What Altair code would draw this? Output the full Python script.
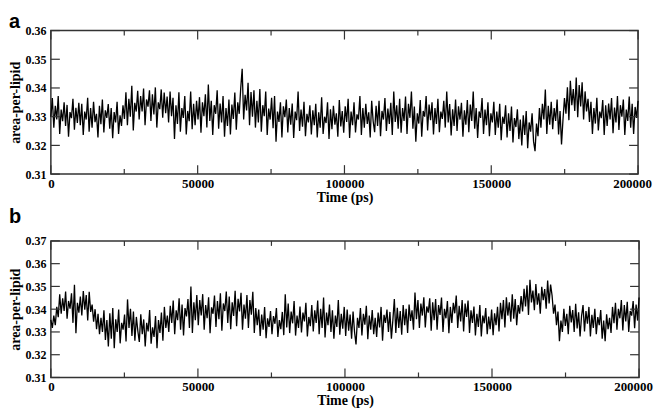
import altair as alt
import numpy as np
import pandas as pd

# area-per-lipid values, in units of 1e-4 nm^2, every ~500 ps
area_a_e4 = [
    3300, 3365, 3262, 3338, 3290, 3372, 3240, 3325, 3284, 3350, 3268, 3341, 3230, 3316, 3295, 3362, 3255, 3331, 3278, 3348,
    3270, 3345, 3236, 3318, 3290, 3366, 3248, 3330, 3262, 3352, 3281, 3310, 3228, 3338, 3274, 3360, 3245, 3322, 3296, 3344,
    3258, 3330, 3225, 3316, 3280, 3352, 3240, 3305, 3268, 3340, 3292, 3385, 3270, 3362, 3300, 3408, 3252, 3348, 3318, 3390,
    3290, 3372, 3318, 3398, 3270, 3360, 3335, 3392, 3285, 3378, 3308, 3402, 3262, 3350, 3326, 3395, 3296, 3384, 3312, 3370,
    3280, 3388, 3302, 3366, 3222, 3340, 3275, 3385, 3248, 3330, 3296, 3372, 3238, 3320, 3284, 3388, 3256, 3345, 3270, 3355,
    3290, 3368, 3244, 3350, 3302, 3378, 3262, 3412, 3285, 3355, 3236, 3340, 3310, 3392, 3258, 3346, 3280, 3372, 3230, 3330,
    3268, 3360, 3238, 3342, 3292, 3384, 3255, 3350, 3310, 3398, 3467, 3290, 3376, 3322, 3418, 3270, 3386, 3300, 3392, 3262,
    3355, 3280, 3396, 3248, 3340, 3302, 3388, 3236, 3328, 3290, 3366, 3260, 3372, 3213, 3318, 3282, 3350, 3228, 3336, 3298,
    3360, 3245, 3330, 3272, 3346, 3226, 3318, 3288, 3388, 3250, 3325, 3265, 3352, 3232, 3310, 3280, 3340, 3238, 3322, 3270,
    3345, 3228, 3315, 3262, 3368, 3240, 3300, 3278, 3350, 3222, 3326, 3256, 3338, 3272, 3312, 3230, 3358, 3266, 3320, 3244,
    3336, 3282, 3362, 3226, 3318, 3270, 3350, 3245, 3308, 3290, 3372, 3236, 3330, 3262, 3345, 3275, 3315, 3228, 3355, 3284,
    3246, 3338, 3268, 3355, 3232, 3320, 3290, 3365, 3250, 3328, 3275, 3348, 3236, 3388, 3282, 3340, 3258, 3362, 3244, 3330,
    3285, 3370, 3240, 3345, 3296, 3388, 3258, 3335, 3213, 3312, 3276, 3358, 3230, 3320, 3300, 3372, 3252, 3342, 3288, 3350,
    3238, 3330, 3275, 3362, 3246, 3318, 3292, 3355, 3262, 3388, 3280, 3344, 3235, 3326, 3268, 3360, 3250, 3336, 3290, 3348,
    3230, 3322, 3272, 3358, 3246, 3342, 3285, 3388, 3258, 3330, 3226, 3318, 3296, 3365, 3240, 3325, 3270, 3350, 3232, 3312,
    3280, 3352, 3236, 3318, 3262, 3345, 3218, 3300, 3275, 3340, 3228, 3312, 3250, 3335, 3210, 3295, 3264, 3326, 3222, 3290,
    3200, 3305, 3236, 3320, 3190, 3280, 3248, 3312, 3214, 3180, 3276, 3232, 3330, 3262, 3345, 3290, 3395, 3240, 3338, 3272,
    3352, 3256, 3330, 3285, 3360, 3238, 3320, 3203, 3290, 3365, 3310, 3402, 3288, 3425, 3340, 3396, 3320, 3436, 3298, 3410,
    3336, 3420, 3290, 3388, 3318, 3362, 3282, 3352, 3240, 3330, 3276, 3366, 3252, 3318, 3295, 3358, 3236, 3340, 3268, 3346,
    3290, 3365, 3242, 3332, 3280, 3372, 3254, 3340, 3300, 3360, 3236, 3325, 3285, 3370, 3262, 3345, 3240, 3334, 3296, 3355,
]

area_b_e4 = [
    3353, 3318, 3372, 3330, 3410, 3365, 3465, 3380, 3448, 3392, 3478, 3358, 3436, 3402, 3470, 3340, 3507, 3294, 3428, 3385,
    3455, 3372, 3480, 3398, 3462, 3350, 3476, 3388, 3420, 3345, 3400, 3312, 3380, 3290, 3362, 3300, 3395, 3265, 3352, 3236,
    3382, 3270, 3405, 3229, 3356, 3300, 3398, 3250, 3340, 3310, 3376, 3258, 3443, 3318, 3402, 3282, 3390, 3262, 3366, 3304,
    3256, 3378, 3290, 3355, 3236, 3340, 3302, 3396, 3248, 3320, 3278, 3370, 3229, 3352, 3296, 3385, 3262, 3410, 3318, 3372,
    3300, 3415, 3340, 3438, 3290, 3395, 3352, 3448, 3310, 3420, 3285, 3405, 3368, 3445, 3318, 3500, 3296, 3430, 3352, 3462,
    3330, 3440, 3372, 3466, 3310, 3418, 3360, 3452, 3294, 3408, 3380, 3460, 3322, 3436, 3356, 3470, 3305, 3425, 3392, 3478,
    3340, 3456, 3312, 3430, 3370, 3481, 3325, 3446, 3390, 3472, 3310, 3420, 3358, 3462, 3318, 3440, 3376, 3476, 3296, 3405,
    3330, 3398, 3282, 3376, 3310, 3409, 3273, 3360, 3322, 3392, 3290, 3370, 3336, 3405, 3278, 3352, 3312, 3388, 3286, 3466,
    3320, 3425, 3295, 3390, 3338, 3436, 3284, 3372, 3318, 3412, 3298, 3385, 3346, 3428, 3280, 3366, 3325, 3418, 3302, 3395,
    3340, 3438, 3290, 3402, 3318, 3451, 3276, 3385, 3330, 3420, 3300, 3395, 3270, 3372, 3322, 3440, 3288, 3380, 3314, 3410,
    3282, 3398, 3306, 3376, 3270, 3390, 3300, 3245, 3362, 3318, 3405, 3285, 3380, 3332, 3415, 3268, 3372, 3310, 3396, 3290,
    3362, 3278, 3385, 3320, 3410, 3262, 3375, 3340, 3398, 3300, 3388, 3270, 3352, 3445, 3296, 3406, 3318, 3392, 3288, 3418,
    3330, 3402, 3296, 3420, 3348, 3395, 3310, 3473, 3356, 3440, 3318, 3425, 3372, 3452, 3320, 3412, 3385, 3448, 3305, 3430,
    3352, 3445, 3310, 3418, 3375, 3451, 3300, 3402, 3360, 3436, 3294, 3410, 3340, 3428, 3382, 3460, 3318, 3415, 3346, 3440,
    3302, 3425, 3366, 3438, 3296, 3395, 3340, 3412, 3285, 3380, 3322, 3418, 3280, 3372, 3338, 3405, 3290, 3368, 3312, 3398,
    3286, 3382, 3330, 3410, 3302, 3428, 3356, 3440, 3320, 3452, 3372, 3430, 3345, 3466, 3358, 3445, 3330, 3418, 3380, 3458,
    3390, 3490, 3412, 3505, 3375, 3529, 3430, 3482, 3396, 3510, 3420, 3470, 3380, 3498, 3440, 3488, 3402, 3526, 3425, 3508,
    3460, 3380, 3420, 3330, 3390, 3259, 3350, 3300, 3402, 3326, 3380, 3290, 3415, 3342, 3396, 3300, 3424, 3315, 3386, 3280,
    3370, 3418, 3302, 3392, 3336, 3410, 3280, 3375, 3318, 3402, 3290, 3365, 3330, 3396, 3270, 3350, 3259, 3378, 3312, 3362,
    3296, 3410, 3338, 3428, 3310, 3402, 3360, 3440, 3306, 3418, 3346, 3432, 3300, 3392, 3372, 3436, 3316, 3420, 3350, 3451,
]

x_ticks = [0, 50000, 100000, 150000, 200000]
x_minor = [25000, 75000, 125000, 175000]
y_ticks_a = [0.31, 0.32, 0.33, 0.34, 0.35, 0.36]
y_ticks_b = [0.31, 0.32, 0.33, 0.34, 0.35, 0.36, 0.37]

SERIF = "Liberation Serif"
FRAME = "#333333"


def panel(values, label, ydom, yticks, W, H, label_y):
    n = len(values)
    df = pd.DataFrame({"t": np.linspace(0, 200000, n), "v": np.array(values) / 10000.0})
    xs = alt.Scale(domain=[0, 200000], nice=False, zero=False)
    ys = alt.Scale(domain=ydom, nice=False, zero=False)
    common = dict(labelFlush=False, labelOverlap=False, grid=False, ticks=False, domain=False,
                  labelFont=SERIF, labelFontWeight="bold", labelColor="black",
                  titleFont=SERIF, titleFontWeight="bold", titleFontSize=14, titleColor="black")
    ax = alt.Axis(values=x_ticks, format="d", labelFontSize=13, labelPadding=3, titlePadding=0,
                  labelOffset={"condition": {"test": "datum.value === 200000", "value": -6}, "value": 0},
                  **common)
    ay = alt.Axis(values=yticks, format=".2f", labelFontSize=12, labelPadding=5, titlePadding=2, **common)

    def X():
        return alt.X("t:Q", scale=xs, title="Time (ps)", axis=ax)

    def Y():
        return alt.Y("v:Q", scale=ys, title="area-per-lipid", axis=ay)

    line = alt.Chart(df).mark_line(color="black", strokeWidth=1.3).encode(x=X(), y=Y())
    xt = pd.DataFrame({"t": x_ticks})
    xm = pd.DataFrame({"t": x_minor})
    yt = pd.DataFrame({"v": yticks})
    rx = dict(color=FRAME, strokeWidth=1.2)
    x_bot = alt.Chart(xt).mark_rule(**rx).encode(x=X(), y=alt.value(H), y2=alt.value(H - 9))
    x_top = alt.Chart(xt).mark_rule(**rx).encode(x=X(), y=alt.value(0), y2=alt.value(9))
    xm_bot = alt.Chart(xm).mark_rule(**rx).encode(x=X(), y=alt.value(H), y2=alt.value(H - 5))
    xm_top = alt.Chart(xm).mark_rule(**rx).encode(x=X(), y=alt.value(0), y2=alt.value(5))
    y_left = alt.Chart(yt).mark_rule(**rx).encode(y=Y(), x=alt.value(0), x2=alt.value(9))
    y_right = alt.Chart(yt).mark_rule(**rx).encode(y=Y(), x=alt.value(W), x2=alt.value(W - 9))
    lab = alt.Chart(pd.DataFrame({"label": [label]})).mark_text(
        font="Liberation Sans", fontWeight="bold", fontSize=20, align="left",
        baseline="alphabetic", color="black").encode(
        text="label:N", x=alt.value(-42), y=alt.value(label_y))
    return alt.layer(line, x_bot, x_top, xm_bot, xm_top, y_left, y_right, lab).properties(
        width=W, height=H)


pa = panel(area_a_e4, "a", [0.31, 0.36], y_ticks_a, 589, 144, -3)
pb = panel(area_b_e4, "b", [0.31, 0.37], y_ticks_b, 590, 137, -18)

chart = alt.vconcat(pa, pb, spacing=1).properties(
    padding={"left": 0, "top": 2, "right": 0, "bottom": 0},
    background="white",
).configure_view(
    stroke=FRAME, strokeWidth=1.5
)

chart.save("out.html", embed_options={"renderer": "svg", "actions": False})
